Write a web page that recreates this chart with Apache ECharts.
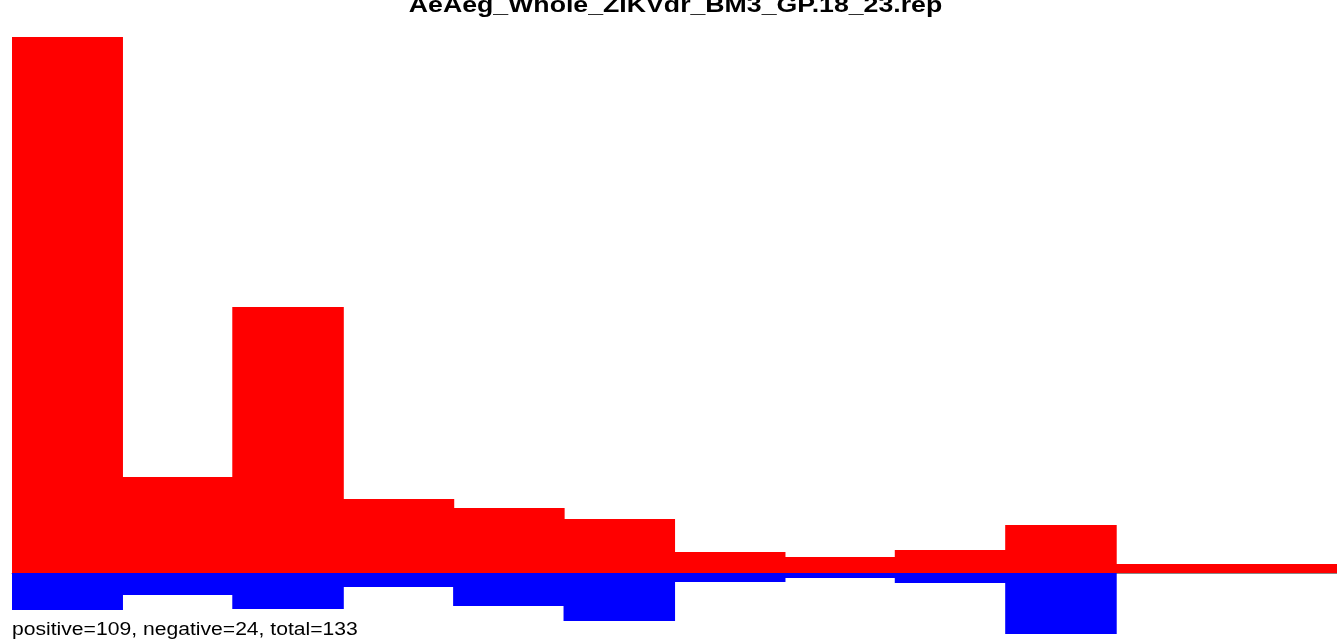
<!DOCTYPE html>
<html>
<head>
<meta charset="utf-8">
<script src="https://cdn.jsdelivr.net/npm/echarts@6/dist/echarts.min.js"></script>
<style>
html,body{margin:0;padding:0;background:#fff;}
#chart{width:1337px;height:640px;}
</style>
</head>
<body>
<div id="chart"></div>
<script>
var titleText = 'AeAeg_Whole_ZIKVdr_BM3_GP.18_23.rep';
var footerText = 'positive=109, negative=24, total=133';
var categories = ['1','2','3','4','5','6','7','8','9','10','11','12'];
var positiveValues = [53.6, 9.6, 26.6, 7.4, 6.5, 5.4, 2.1, 1.6, 2.3, 4.8, 0.9, 0.9];
var negativeValues = [-3.7, -2.2, -3.6, -1.4, -3.3, -4.8, -0.9, -0.5, -1.0, -6.1, 0, 0];
var yMin = -6.1;
var yMax = 53.6;

var chart = echarts.init(document.getElementById('chart'), null, {renderer: 'canvas'});
chart.setOption({
  animation: false,
  backgroundColor: '#ffffff',
  grid: {left: 12, right: 0, top: 37, bottom: 6, containLabel: false},
  xAxis: {
    type: 'category',
    data: categories,
    boundaryGap: true,
    axisLine: {show: true, onZero: true, lineStyle: {color: '#888888', width: 1}},
    axisTick: {show: false},
    axisLabel: {show: false},
    splitLine: {show: false}
  },
  yAxis: {
    type: 'value',
    min: yMin,
    max: yMax,
    axisLine: {show: false},
    axisTick: {show: false},
    axisLabel: {show: false},
    splitLine: {show: false}
  },
  series: [
    {
      type: 'bar',
      name: 'positive',
      data: positiveValues,
      barWidth: '101%',
      barGap: '-100%',
      itemStyle: {color: '#ff0000'}
    },
    {
      type: 'bar',
      name: 'negative',
      data: negativeValues.map(function (v) { return v === 0 ? null : v; }),
      barWidth: '101%',
      barGap: '-100%',
      itemStyle: {color: '#0000ff'}
    }
  ],
  graphic: [
    {
      type: 'text',
      x: 675.5,
      y: 6,
      scaleX: 1.213,
      style: {
        text: titleText,
        font: 'bold 22px "Liberation Sans", Arial, sans-serif',
        fill: '#000000',
        align: 'center',
        verticalAlign: 'middle'
      }
    },
    {
      type: 'text',
      x: 12,
      y: 630,
      scaleX: 1.207,
      style: {
        text: footerText,
        font: '17.5px "Liberation Sans", Arial, sans-serif',
        fill: '#000000',
        align: 'left',
        verticalAlign: 'middle'
      }
    }
  ]
});
</script>
</body>
</html>
